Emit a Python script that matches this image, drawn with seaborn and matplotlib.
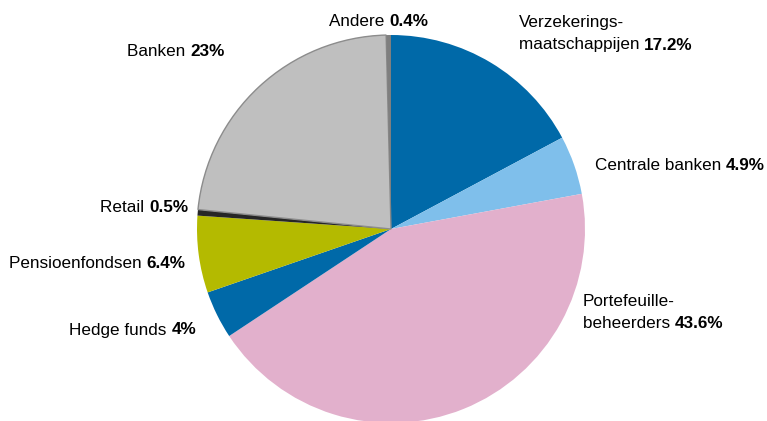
import matplotlib
matplotlib.use("Agg")
import matplotlib.pyplot as plt
import seaborn as sns

# data, clockwise from the top
sectors = ["Verzekeringsmaatschappijen", "Centrale banken", "Portefeuillebeheerders",
           "Hedge funds", "Pensioenfondsen", "Retail", "Banken", "Andere"]
shares = [17.2, 4.9, 43.6, 4.0, 6.4, 0.5, 23.0, 0.4]
pct_labels = ["17.2%", "4.9%", "43.6%", "4%", "6.4%", "0.5%", "23%", "0.4%"]
colors = ["#0069a8", "#7fbfeb", "#e2b0cc", "#0069a8", "#b4ba00", "#262626", "#bfbfbf", "#7f7f7f"]

sns.set_style("white")
plt.rcParams["font.family"] = ["Liberation Sans", "DejaVu Sans"]
plt.rcParams["text.color"] = "black"

W, H = 767, 421
fig = plt.figure(figsize=(W / 100, H / 100), dpi=100)
ax = fig.add_axes([0, 0, 1, 1])

wedges, _ = ax.pie(shares, colors=colors, startangle=90, counterclock=False,
                   center=(391, H - 229), radius=194, frame=True,
                   wedgeprops={"linewidth": 0})
ax.set_xlim(0, W)
ax.set_ylim(0, H)
ax.set_aspect("equal")
ax.axis("off")
wedges[6].set_edgecolor("#8c8c8c")
wedges[6].set_linewidth(1.0)

fs = 12.3


def label(x, y, lines, pct, ha="left"):
    # lines: label text lines; last line gets the bold percentage
    y = H - y
    lh = 23
    for i, ln in enumerate(lines[:-1]):
        ax.text(x, y + lh * (len(lines) - 1 - i), ln, fontsize=fs, ha=ha, va="center")
    if ha == "left":
        t = ax.text(x, y, lines[-1] + " ", fontsize=fs, ha="left", va="center")
        ax.annotate(pct, xy=(1, 0), xycoords=t, fontsize=fs, fontweight="bold",
                    ha="left", va="bottom")
    else:
        t = ax.text(x, y, pct, fontsize=fs, fontweight="bold", ha="right", va="center")
        ax.annotate(lines[-1] + " ", xy=(0, 0), xycoords=t, fontsize=fs,
                    ha="right", va="bottom")


label(519, 45, ["Verzekerings-", "maatschappijen"], pct_labels[0])
label(595, 166, ["Centrale banken"], pct_labels[1])
label(583, 324, ["Portefeuille-", "beheerders"], pct_labels[2])
label(196, 330, ["Hedge funds"], pct_labels[3], ha="right")
label(185, 263, ["Pensioenfondsen"], pct_labels[4], ha="right")
label(188, 207, ["Retail"], pct_labels[5], ha="right")
label(127, 51, ["Banken"], pct_labels[6])
label(329, 21, ["Andere"], pct_labels[7])

fig.savefig("out.png", dpi=100)
